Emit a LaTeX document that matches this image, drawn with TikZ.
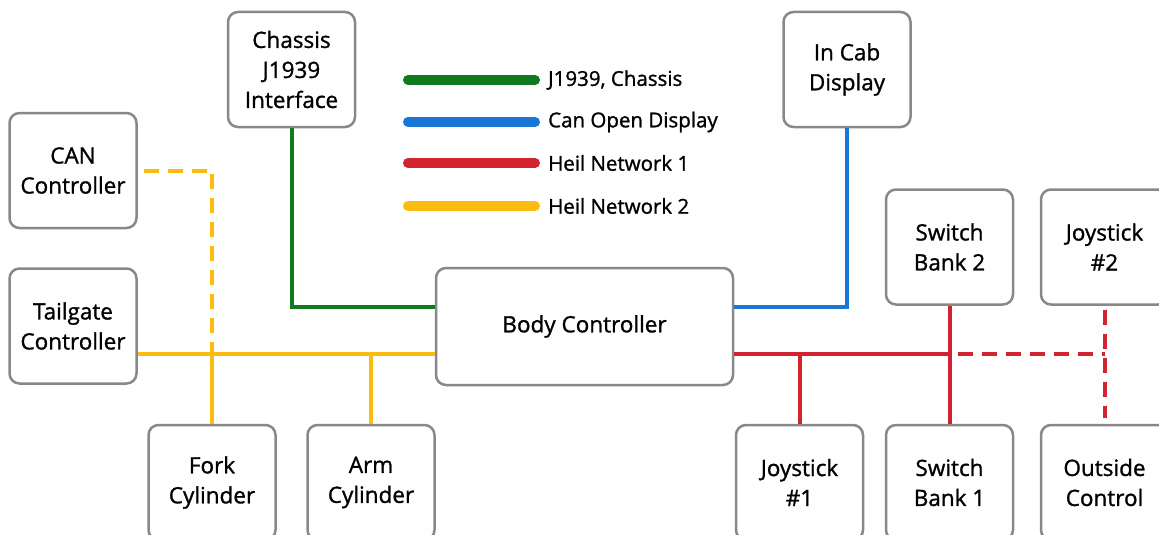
\documentclass[tikz,border=0pt]{standalone}
\usepackage{fontspec}
\setmainfont{Open Sans}[FakeBold=1.2]
\usetikzlibrary{calc}

\definecolor{busgreen}{RGB}{16,122,30}
\definecolor{busblue}{RGB}{26,118,212}
\definecolor{busred}{RGB}{210,35,48}
\definecolor{busyellow}{RGB}{251,188,18}
\definecolor{boxgray}{RGB}{136,136,136}

\begin{document}
\begin{tikzpicture}[x=1pt,y=-1pt,
	unit/.style={draw=boxgray,line width=2.5pt,rounded corners=10pt,fill=white,
		minimum width=127pt,minimum height=115pt,inner sep=0pt,align=center,
		font=\fontsize{22.5}{30}\selectfont},
	bus/.style={line width=4pt},
	legendline/.style={line width=10pt,line cap=round},
	legendtext/.style={anchor=west,inner sep=0pt,font=\fontsize{20.5}{22}\selectfont},
	brk/.style={dash pattern=on 15pt off 9pt}]
	\useasboundingbox (0,0) rectangle (1159,535);
	\clip (0,0) rectangle (1159,535);

	\node[unit] (can) at (73,170.5) {CAN\\Controller};
	\node[unit] (tail) at (73,326) {Tailgate\\Controller};
	\node[unit] (chassis) at (291.5,69.5) {Chassis\\J1939\\Interface};
	\node[unit] (cab) at (847,69.5) {In Cab\\Display};
	\node[unit,minimum width=297pt,minimum height=117pt] (body) at (584.5,326.5) {Body Controller};
	\node[unit] (sbtwo) at (949.5,247) {Switch\\Bank 2};
	\node[unit] (jstwo) at (1104.5,247) {Joystick\\\#2};
	\node[unit] (fork) at (212,482.5) {Fork\\Cylinder};
	\node[unit] (arm) at (371,482.5) {Arm\\Cylinder};
	\node[unit] (jsone) at (799.5,482.5) {Joystick\\\#1};
	\node[unit] (sbone) at (949.5,482.5) {Switch\\Bank 1};
	\node[unit] (outside) at (1104.5,482.5) {Outside\\Control};

	% legend
	\foreach \y/\c/\t in {80/busgreen/{J1939, Chassis},122/busblue/Can Open Display,
		163/busred/Heil Network 1,206/busyellow/Heil Network 2}{
		\draw[legendline,\c] (408,\y) -- (535,\y);
		\node[legendtext] at (548,\y) {\t};
	}

	\coordinate (ybus) at ([yshift=-27pt]body.west);
	\coordinate (rbus) at ([yshift=-27pt]body.east);

	\draw[bus,busgreen] (chassis.south) |- ([yshift=20pt]body.west);
	\draw[bus,busblue] (cab.south) |- ([yshift=20pt]body.east);

	\draw[bus,busyellow] (tail.east |- ybus) -- (ybus);
	\draw[bus,busyellow] (fork.north) -- (fork.north |- ybus);
	\draw[bus,busyellow] (arm.north) -- (arm.north |- ybus);
	\draw[bus,busyellow,brk] ([xshift=6pt]can.east) -| (fork.north |- ybus);

	\draw[bus,busred] (rbus) -- (sbone.north |- rbus);
	\draw[bus,busred] (jsone.north) -- (jsone.north |- rbus);
	\draw[bus,busred] (sbtwo.south) -- (sbone.north);
	\draw[bus,busred,brk] ([xshift=8pt]sbone.north |- rbus) -- (jstwo.south |- rbus);
	\draw[bus,busred,brk] ([yshift=-4pt]jstwo.south) -- ([yshift=6pt]outside.north);
\end{tikzpicture}
\end{document}
